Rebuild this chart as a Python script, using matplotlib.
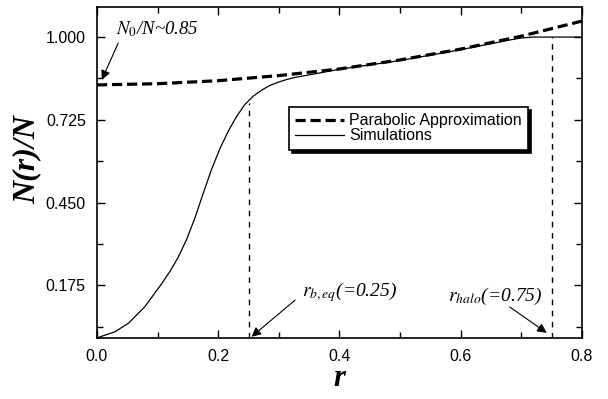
import matplotlib
matplotlib.use("Agg")
import matplotlib.pyplot as plt

plt.rcParams['mathtext.fontset'] = 'stix'

# parabolic approximation (dashed)
rPar = [0.0, 0.1, 0.2, 0.3, 0.4, 0.5, 0.6, 0.7, 0.8]
nPar = [0.841, 0.845, 0.855, 0.872, 0.894, 0.924, 0.960, 1.003, 1.053]

# simulations (solid)
rSim = [0.0, 0.007, 0.03, 0.052, 0.079, 0.107, 0.120, 0.134, 0.148, 0.162,
        0.175, 0.189, 0.203, 0.217, 0.230, 0.244, 0.258, 0.272, 0.285, 0.299,
        0.313, 0.327, 0.36, 0.4, 0.5, 0.6, 0.65, 0.68, 0.70, 0.72, 0.8]
nSim = [0.0, 0.005, 0.021, 0.049, 0.104, 0.181, 0.220, 0.268, 0.328, 0.401,
        0.479, 0.560, 0.630, 0.689, 0.735, 0.776, 0.804, 0.824, 0.839, 0.850,
        0.859, 0.866, 0.878, 0.893, 0.922, 0.958, 0.978, 0.990, 0.997, 1.0, 1.0]

rMarks = [0.25, 0.75]
markTops = [0.782, 1.0]

yTicks = [0.175, 0.450, 0.725, 1.000]

fig = plt.figure(figsize=(6.08, 3.99), dpi=100)
ax = fig.add_axes([0.1595, 0.153, 0.7975, 0.8295])

ax.plot(rPar, nPar, color='black', lw=2.3, ls=(0, (3.2, 1.5)),
        label='Parabolic Approximation', zorder=3)
ax.plot(rSim, nSim, color='black', lw=0.9, label='Simulations', zorder=2)

for rm, top in zip(rMarks, markTops):
    ax.plot([rm, rm], [0, top], color='black', lw=1.0, ls=(0, (4, 4)))

ax.set_xlim(0, 0.8)
ax.set_ylim(0, 1.1)
ax.set_xticks([0.0, 0.2, 0.4, 0.6, 0.8])
ax.set_xticks([0.1, 0.3, 0.5, 0.7], minor=True)
ax.set_yticks(yTicks)
ax.set_yticks([0.0375, 0.3125, 0.5875, 0.8625], minor=True)
ax.set_xticklabels(['0.0', '0.2', '0.4', '0.6', '0.8'])
ax.set_yticklabels(['%.3f' % v for v in yTicks])
ax.tick_params(which='both', direction='in', top=True, right=True,
               labelsize=11.5, width=1.0)
ax.tick_params(which='major', length=6, pad=8)
ax.tick_params(which='minor', length=4)
for lab in ax.get_xticklabels() + ax.get_yticklabels():
    lab.set_family('Liberation Sans')
for sp in ax.spines.values():
    sp.set_linewidth(1.2)

ax.set_xlabel('r', family='Liberation Serif', style='italic',
              weight='bold', fontsize=22, labelpad=0)
ax.set_ylabel('N(r)/N', family='Liberation Serif', style='italic',
              weight='bold', fontsize=23)
ax.yaxis.set_label_coords(-0.115, 0.54)

serif = dict(family='Liberation Serif', style='italic', fontsize=14)
ax.text(0.031, 1.026, r'$N_0$/N~0.85', ha='left', va='center',
        family='Liberation Serif', style='italic', fontsize=13.5)
ax.annotate('', xy=(0.008, 0.858), xytext=(0.035, 0.98),
            arrowprops=dict(arrowstyle='-|>', color='black', lw=0.8,
                            mutation_scale=14, shrinkA=0, shrinkB=0))
ax.text(0.338, 0.152, r'$r_{b,eq}$(=0.25)', ha='left', va='center', **serif)
ax.annotate('', xy=(0.255, 0.004), xytext=(0.327, 0.126),
            arrowprops=dict(arrowstyle='-|>', color='black', lw=0.8,
                            mutation_scale=14, shrinkA=0, shrinkB=0))
ax.text(0.579, 0.137, r'$r_{halo}$(=0.75)', ha='left', va='center', **serif)
ax.annotate('', xy=(0.742, 0.017), xytext=(0.681, 0.103),
            arrowprops=dict(arrowstyle='-|>', color='black', lw=0.8,
                            mutation_scale=14, shrinkA=0, shrinkB=0))

leg = ax.legend(loc='upper left', bbox_to_anchor=(0.396, 0.698),
                borderaxespad=0, fancybox=False, handlelength=3.05,
                handletextpad=0.3, labelspacing=0.0, borderpad=0.4,
                prop={'family': 'Liberation Sans', 'size': 11.5},
                shadow={'color': 'black', 'alpha': 1.0, 'ox': 2.5, 'oy': -2.5},
                framealpha=1)
leg.get_frame().set_edgecolor('black')
leg.get_frame().set_linewidth(1.2)

fig.savefig('out.png', dpi=100)
